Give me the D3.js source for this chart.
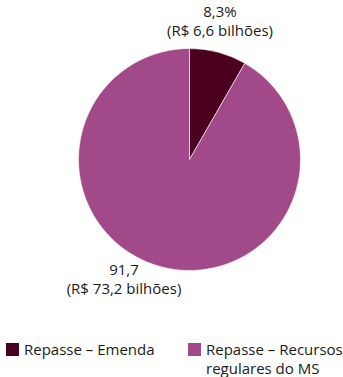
<!DOCTYPE html>
<html>
<head>
<meta charset="utf-8">
<script src="https://cdn.jsdelivr.net/npm/d3@7"></script>
<style>
  body { margin: 0; background: #fff; }
  svg text { font-family: "Open Sans", "Noto Sans", sans-serif; fill: #1a1a1a; }
</style>
</head>
<body>
<div id="chart"></div>
<script>
// dados do gráfico
const categorias = ["Repasse – Emenda", "Repasse – Recursos regulares do MS"];
const percentuais = [8.3, 91.7];
const rotulos = [["8,3%", "(R$ 6,6 bilhões)"], ["91,7", "(R$ 73,2 bilhões)"]];
const cores = ["#4b001f", "#a2498a"];

const w = 343, h = 377;
const cx = 189.5, cy = 159.5, raio = 111;

const svg = d3.select("#chart").append("svg")
    .attr("width", w)
    .attr("height", h);

const pie = d3.pie().sort(null).value(d => d);
const arc = d3.arc().innerRadius(0).outerRadius(raio);

const g = svg.append("g").attr("transform", `translate(${cx},${cy})`);

g.selectAll("path")
    .data(pie(percentuais))
    .enter()
    .append("path")
    .attr("d", arc)
    .attr("fill", (d, i) => cores[i])
    .attr("stroke", "#fff")
    .attr("stroke-width", 0.6);

// rótulos fora da pizza
const posRotulos = [[220, 17], [124, 275]];
rotulos.forEach((linhas, i) => {
    linhas.forEach((l, j) => {
        svg.append("text")
            .attr("text-anchor", "middle")
            .attr("font-size", 15)
            .attr("x", posRotulos[i][0])
            .attr("y", posRotulos[i][1] + j * 19)
            .text(l);
    });
});

// legenda
const legenda = [
    { x: 6, linhas: ["Repasse – Emenda"] },
    { x: 188, linhas: ["Repasse – Recursos", "regulares do MS"] }
];
legenda.forEach((d, i) => {
    svg.append("rect")
        .attr("x", d.x)
        .attr("y", 343)
        .attr("width", 13)
        .attr("height", 13)
        .attr("fill", cores[i]);
    d.linhas.forEach((l, j) => {
        svg.append("text")
            .attr("font-size", 15)
            .attr("x", d.x + 18)
            .attr("y", 355 + j * 19)
            .text(l);
    });
});
</script>
</body>
</html>
